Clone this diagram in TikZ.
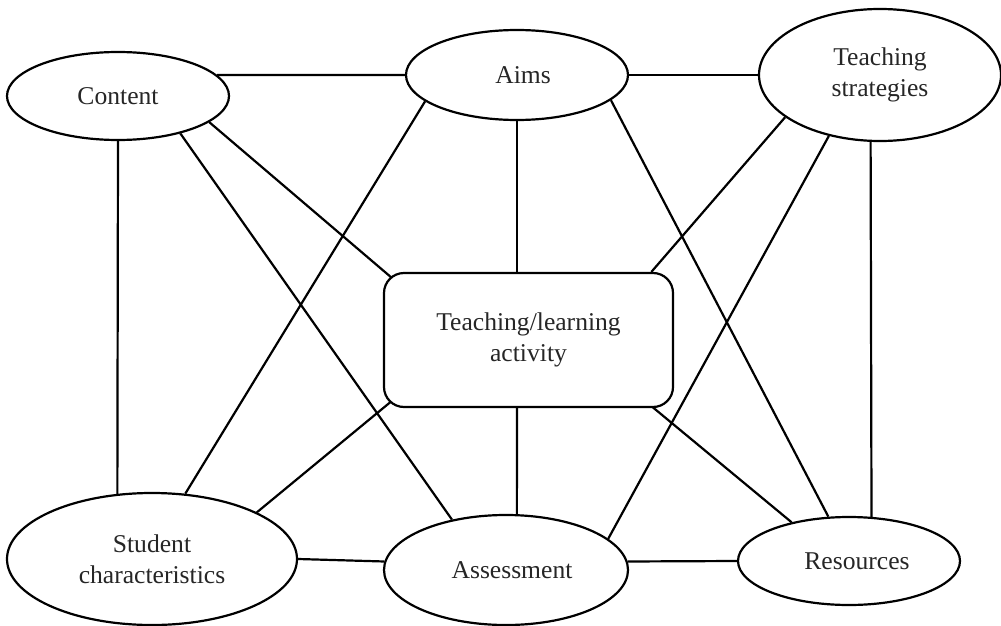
\documentclass[tikz,border=0pt]{standalone}
\usepackage{fontspec}
\setmainfont{Liberation Serif}
\usetikzlibrary{shapes.geometric,backgrounds}
\begin{document}
\begin{tikzpicture}[x=1pt,y=-1pt,
  every node/.style={font=\fontsize{25.6}{30.5}\selectfont, text=black!85, align=center},
  topic/.style={ellipse, draw, line width=2.2pt, fill=white, inner sep=0pt},
  activitybox/.style={rectangle, rounded corners=20pt, draw, line width=2.2pt, fill=white,
    inner sep=0pt, minimum width=289pt, minimum height=134pt},
  link/.style={line width=2.2pt}]
\useasboundingbox (0,0) rectangle (1001,626);

% planning elements
\node[topic, minimum width=222pt, minimum height=88pt]  (content) at (118,96)  {Content};
\node[topic, minimum width=222pt, minimum height=90pt]  (aims)    at (517,75)  {\hspace*{12pt}Aims};
\node[topic, minimum width=242pt, minimum height=132pt] (ts)      at (880,75)  {Teaching\\strategies};
\node[topic, minimum width=290pt, minimum height=132pt] (student) at (152,559) {Student\\characteristics};
\node[topic, minimum width=244pt, minimum height=110pt] (assess)  at (506,570) {\hspace*{12pt}Assessment};
\node[topic, minimum width=222pt, minimum height=88pt]  (res)     at (849,561) {\hspace*{16pt}Resources};
\node[activitybox] (act) at (528.5,340) {Teaching/learning\\activity};

% connections, drawn behind the filled shapes
\begin{pgfonlayer}{background}
\draw[link] (content.12) -- (aims.west);
\draw[link] (aims.east) -- (ts.west);
\draw[link] (content.south) -- (student.118);
\draw[link] (ts.-98) -- (res.63);
\draw[link] (student.east) -- (assess.176);
\draw[link] (assess.4) -- (res.west);
\draw[link] (aims.south) -- (aims.south |- act.north);
\draw[link] (aims.south |- act.south) -- (assess.79);
\draw[link] (content.-16) -- ([shift={(16,12)}]act.north west);
\draw[link] (content.-31.5) -- (assess.137);
\draw[link] (aims.-164.6) -- (student.63);
\draw[link] (aims.-15.4) -- (res.115.5);
\draw[link] (ts.-156) -- (act.29);
\draw[link] (ts.-130) -- (assess.17);
\draw[link] (student.24) -- ([shift={(16,-13)}]act.south west);
\draw[link] (res.146.5) -- ([shift={(-30,-8)}]act.south east);
\end{pgfonlayer}
\end{tikzpicture}
\end{document}
